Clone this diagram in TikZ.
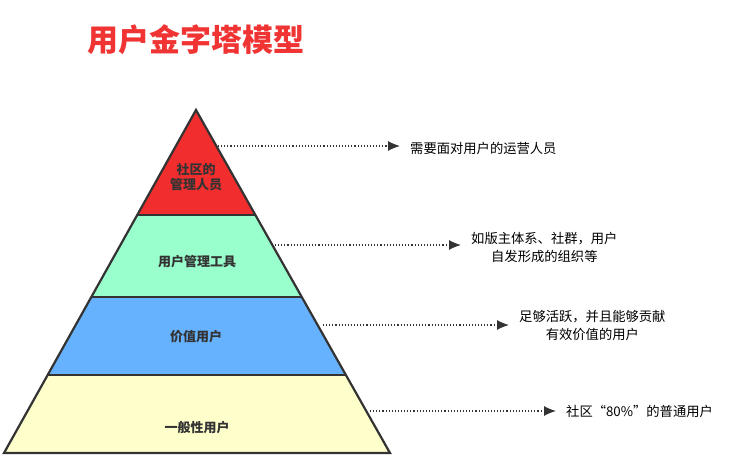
\documentclass[tikz,border=0pt]{standalone}
\usepackage{fontspec}
\setmainfont{Noto Sans CJK SC}
\usetikzlibrary{arrows.meta,calc}
\definecolor{titlered}{RGB}{240,52,52}
\definecolor{topred}{RGB}{242,45,45}
\definecolor{mint}{RGB}{153,255,204}
\definecolor{skyblue}{RGB}{102,178,255}
\definecolor{paleyellow}{RGB}{255,255,204}
\definecolor{edge}{RGB}{51,51,51}
\begin{document}
\begin{tikzpicture}[x=1pt,y=-1pt,
  band/.style={draw=edge,line width=2.2pt,line join=miter},
  label/.style={font=\bfseries\fontsize{13}{15}\selectfont,text=edge,align=center},
  note/.style={font=\fontsize{13.3}{18}\selectfont,text=black,align=center,inner sep=0pt},
  pointer/.style={draw=edge,dotted,line width=1.1pt,shorten >=10pt,-{Latex[length=12pt,width=10pt]}}]
\useasboundingbox (0,0) rectangle (729,471);

% title
\node[font=\bfseries\fontsize{31}{34}\selectfont,text=titlered] (title) at (196,40) {用户金字塔模型};

% pyramid
\coordinate (top) at (196,110);
\coordinate (bl) at (4,453);
\coordinate (br) at (390,453);
\coordinate (l1) at ($(top)!0.306!(bl)$); \coordinate (r1) at ($(top)!0.306!(br)$);
\coordinate (l2) at ($(top)!0.545!(bl)$); \coordinate (r2) at ($(top)!0.545!(br)$);
\coordinate (l3) at ($(top)!0.773!(bl)$); \coordinate (r3) at ($(top)!0.773!(br)$);

\fill[paleyellow] (l3)--(r3)--(br)--(bl)--cycle;
\fill[skyblue] (l2)--(r2)--(r3)--(l3)--cycle;
\fill[mint] (l1)--(r1)--(r2)--(l2)--cycle;
\fill[topred] (top)--(r1)--(l1)--cycle;
\draw[band] (top)--(br)--(bl)--cycle;
\draw[band] (l1)--(r1); \draw[band] (l2)--(r2); \draw[band] (l3)--(r3);

\node[label] (p1) at (196,177) {社区的\\管理人员};
\node[label] (p2) at (197,262) {用户管理工具};
\node[label] (p3) at (196,337) {价值用户};
\node[label] (p4) at (197,428) {一般性用户};

% notes
\node[note,anchor=west] (t1) at (410,148) {需要面对用户的运营人员};
\node[note,anchor=west] (t2) at (471,247) {如版主体系、社群，用户\\自发形成的组织等};
\node[note,anchor=west] (t3) at (519,325) {足够活跃，并且能够贡献\\有效价值的用户};
\node[note,anchor=west] (t4) at (566,411) {社区“80\%”的普通用户};

\coordinate (s1) at (218,146);
\coordinate (s2) at (275,245);
\coordinate (s3) at (323,325);
\coordinate (s4) at (370,411);
\draw[pointer] (s1) -- (s1 -| t1.west);
\draw[pointer] (s2) -- (s2 -| t2.west);
\draw[pointer] (s3) -- (s3 -| t3.west);
\draw[pointer] (s4) -- (s4 -| t4.west);
\end{tikzpicture}
\end{document}
